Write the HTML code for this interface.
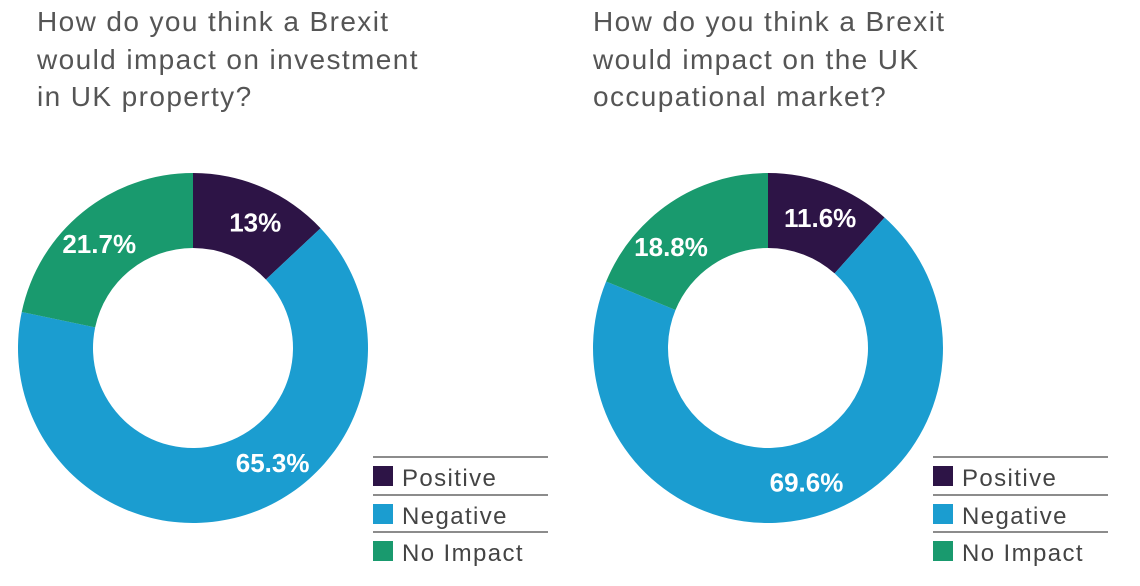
<!DOCTYPE html>
<html><head><meta charset="utf-8"><style>
body{margin:0;background:#fff;width:1140px;height:586px;overflow:hidden;font-family:"Liberation Sans",sans-serif;}
.title{position:absolute;font-size:28px;line-height:37.5px;color:#555;letter-spacing:1.4px}
</style></head><body>
<div class="title" style="left:37px;top:3px">How do you think a Brexit<br>would impact on investment<br>in UK property?</div>
<div class="title" style="left:593px;top:3px">How do you think a Brexit<br>would impact on the UK<br>occupational market?</div>
<svg id="svg" width="1140" height="586" style="position:absolute;left:0;top:0"></svg>
<script>
const categories=["Positive","Negative","No Impact"];
const investmentValues=[13,65.3,21.7];
const occupationalValues=[11.6,69.6,18.8];
const investmentLabels=["13%","65.3%","21.7%"];
const occupationalLabels=["11.6%","69.6%","18.8%"];
const investmentShift=[3,-19,-3];
const occupationalShift=[1,-3,-10];
const colors=["#2d1446","#1b9dd0","#199a6e"];
const NS="http://www.w3.org/2000/svg";
const svg=document.getElementById('svg');
function mk(t,a){const e=document.createElementNS(NS,t);for(const k in a)e.setAttribute(k,a[k]);svg.appendChild(e);return e;}
function donut(cx,cy,R,r,vals,labels,shift,prefix){
  const tot=vals.reduce((a,b)=>a+b,0);let acc=0;
  vals.forEach((v,i)=>{
    const a0=acc/tot*2*Math.PI,a1=(acc+v)/tot*2*Math.PI;acc+=v;
    const p=(a,rr)=>[cx+rr*Math.sin(a),cy-rr*Math.cos(a)];
    const [x0,y0]=p(a0,R),[x1,y1]=p(a1,R),[x2,y2]=p(a1,r),[x3,y3]=p(a0,r);
    const lg=(a1-a0)>Math.PI?1:0;
    const path=mk('path',{d:`M${x0},${y0}A${R},${R} 0 ${lg} 1 ${x1},${y1}L${x2},${y2}A${r},${r} 0 ${lg} 0 ${x3},${y3}Z`,fill:colors[i]});
    
    
    const am=(a0+a1)/2+shift[i]*Math.PI/180,[lx,ly]=p(am,140);
    const t=mk('text',{x:lx,y:ly+9,'text-anchor':'middle','font-size':'26','font-weight':'bold',fill:'#fff','letter-spacing':'0'});
    t.textContent=labels[i];
    
    
  });
}
function legend(x,prefix){
  const ys=[457,495,532];
  ys.forEach(y=>{const l=mk('line',{x1:x,x2:x+175,y1:y,y2:y,stroke:'#666','stroke-width':1.5});
    });
  categories.forEach((c,i)=>{
    const y=ys[i];
    const s=mk('rect',{x:x,y:y+9,width:20,height:20,fill:colors[i]});
    
    const t=mk('text',{x:x+29,y:y+29,'font-size':'24',fill:'#444','letter-spacing':'1.4'});t.textContent=c;
    
  });
}
donut(193,348,175,100,investmentValues,investmentLabels,investmentShift,'investment');
donut(768,348,175,100,occupationalValues,occupationalLabels,occupationalShift,'occupational');
legend(373,'investment');legend(933,'occupational');
</script>
</body></html>
